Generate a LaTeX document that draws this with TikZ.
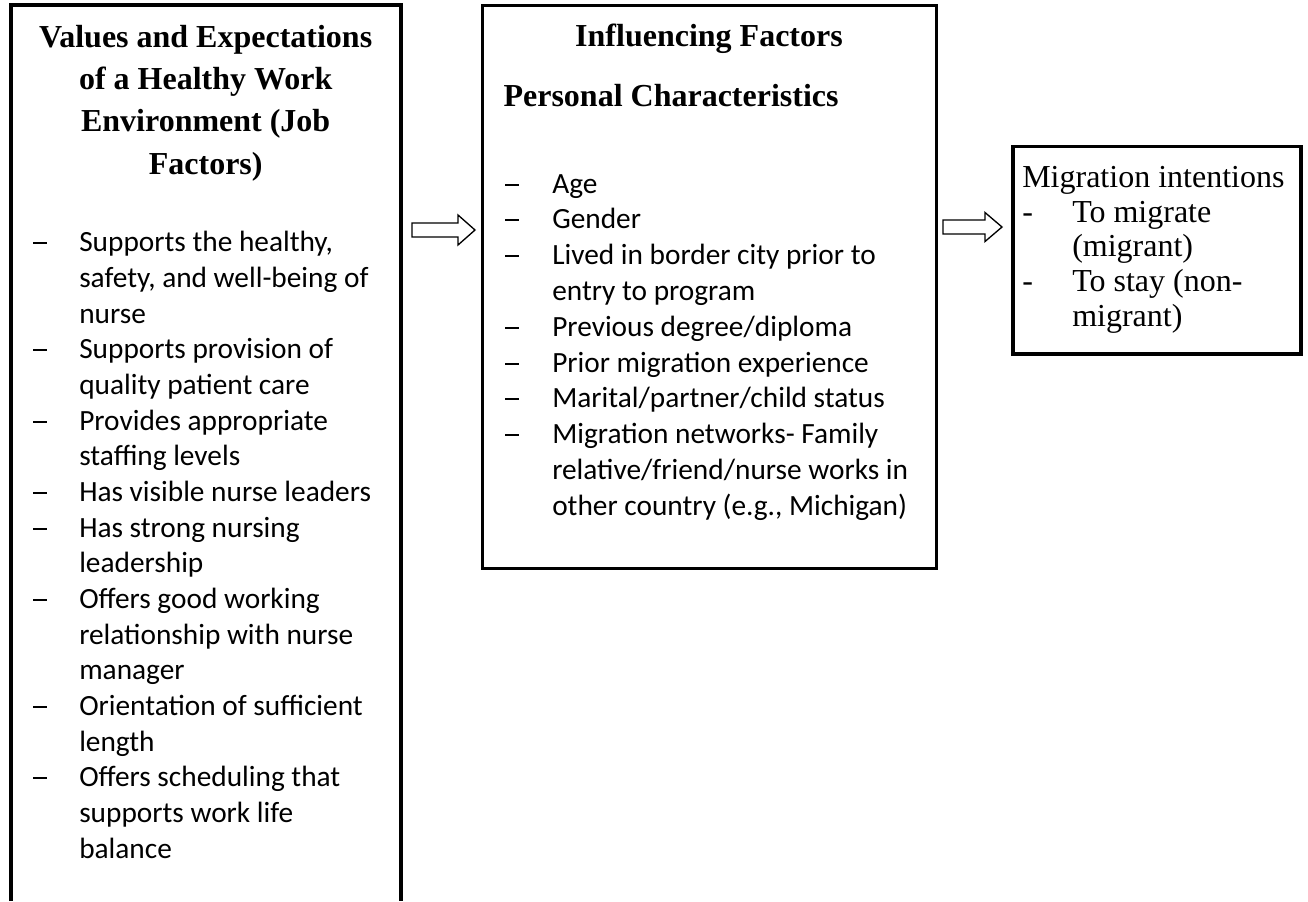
\documentclass[tikz,border=0pt]{standalone}
\usepackage{fontspec}
\usepackage{array}
\setmainfont{Liberation Serif}
\newfontfamily\bodyfont{Carlito}
\newcommand{\itemdash}{\rule[5.6pt]{10.5pt}{1.4pt}}

\begin{document}
\begin{tikzpicture}[x=0.75pt,y=0.75pt,yscale=-1,xscale=1]
        \useasboundingbox (0,0) rectangle (1308,901);

        %Shape: Rectangle [id:jobbox] (runs off the page at the bottom)
        \draw  [line width=3pt] (11.3,901) -- (11.3,5.3) -- (400.5,5.3) -- (400.5,901) ;
        %Shape: Rectangle [id:influencebox]
        \draw  [line width=2.5pt] (482.3,5.7) rectangle (936.5,568.7) ;
        %Shape: Rectangle [id:intentbox]
        \draw  [line width=2.5pt] (1013,146.7) rectangle (1301,354) ;

        %Shape: Right Arrow [id:arrowjob]
        \draw  [line width=1pt] (412,223) -- (458,223) -- (458,215) -- (475,230) -- (458,245) -- (458,237) -- (412,237) -- cycle ;
        %Shape: Right Arrow [id:arrowinfluence]
        \draw  [line width=1pt] (943,220) -- (985,220) -- (985,212.5) -- (1002,227) -- (985,241.5) -- (985,234) -- (943,234) -- cycle ;

        % Text Node
        \node [anchor=base, inner sep=0pt] (jobTitle) at (205.7,47) {\fontsize{24}{31.75}\selectfont\bfseries
          \begin{tabular}[t]{@{}c@{}}Values and Expectations\\ of a Healthy Work\\ Environment (Job\\ Factors)\end{tabular}};
        % Text Node
        \node [anchor=base west, inner sep=0pt] (jobList) at (33,251.7) {\bodyfont\fontsize{22}{26.75}\selectfont
          \begin{tabular}[t]{@{}p{34.5pt}@{}l@{}}
          \itemdash & Supports the healthy,\\
             & safety, and well-being of\\
             & nurse\\
          \itemdash & Supports provision of\\
             & quality patient care\\
          \itemdash & Provides appropriate\\
             & staffing levels\\
          \itemdash & Has visible nurse leaders\\
          \itemdash & Has strong nursing\\
             & leadership\\
          \itemdash & Offers good working\\
             & relationship with nurse\\
             & manager\\
          \itemdash & Orientation of sufficient\\
             & length\\
          \itemdash & Offers scheduling that\\
             & supports work life\\
             & balance
          \end{tabular}};

        % Text Node
        \node [anchor=base, inner sep=0pt] (influenceTitle) at (709,46.7) {\fontsize{24}{30}\selectfont\bfseries Influencing Factors};
        % Text Node
        \node [anchor=base west, inner sep=0pt] (personalTitle) at (503.3,106.7) {\fontsize{24}{30}\selectfont\bfseries Personal Characteristics};
        % Text Node
        \node [anchor=base west, inner sep=0pt] (personalList) at (505,193) {\bodyfont\fontsize{22}{26.85}\selectfont
          \begin{tabular}[t]{@{}p{35.25pt}@{}l@{}}
          \itemdash & Age\\
          \itemdash & Gender\\
          \itemdash & Lived in border city prior to\\
             & entry to program\\
          \itemdash & Previous degree/diploma\\
          \itemdash & Prior migration experience\\
          \itemdash & Marital/partner/child status\\
          \itemdash & Migration networks- Family\\
             & relative/friend/nurse works in\\
             & other country (e.g., Michigan)
          \end{tabular}};

        % Text Node
        \node [anchor=base west, inner sep=0pt] (intentList) at (1022,187.5) {\fontsize{24}{26}\selectfont
          \begin{tabular}[t]{@{}p{37.5pt}@{}l@{}}
          \multicolumn{2}{@{}l@{}}{Migration intentions}\\
          - & To migrate\\
            & (migrant)\\
          - & To stay (non-\\
            & migrant)
          \end{tabular}};

    \end{tikzpicture}
\end{document}
